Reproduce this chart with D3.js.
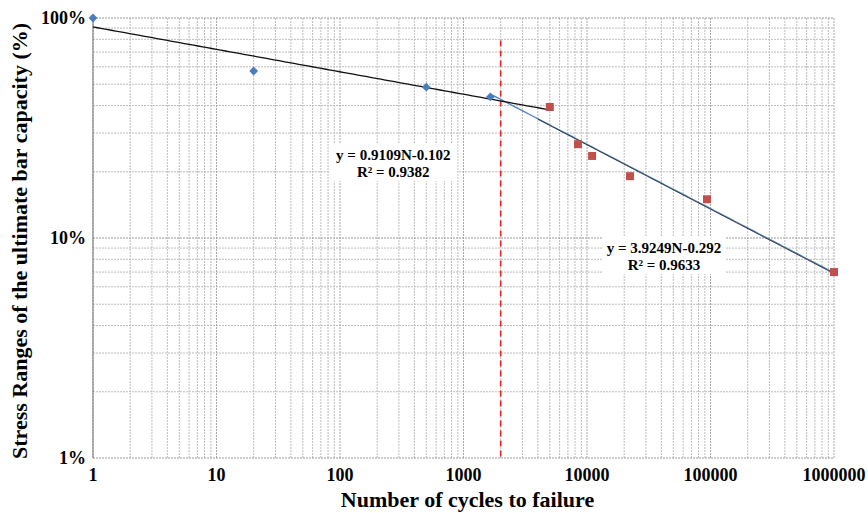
<!DOCTYPE html>
<html>
<head>
<meta charset="utf-8">
<script src="https://cdn.jsdelivr.net/npm/d3@7"></script>
<style>
  body { margin: 0; background: #fff; }
  text { font-family: "Liberation Serif", "Times New Roman", serif; font-weight: bold; }
</style>
</head>
<body>
<svg width="868" height="513"></svg>
<script>
// low cycle points (blue) and high cycle points (red)
const lowN = [1, 20, 500, 1650];
const lowS = [1.0, 0.574, 0.485, 0.438];
const highN = [5000, 8450, 11000, 22300, 93700, 1000000];
const highS = [0.394, 0.267, 0.236, 0.191, 0.150, 0.070];

// power trendlines  S = a * N^b
const trend1 = { a: 0.9109, b: -0.102, from: 1, to: 5000 };
const trend2 = { a: 3.9249, b: -0.292, from: 1650, to: 1000000 };
const limitN = 2000;

const xTicks = [1, 10, 100, 1000, 10000, 100000, 1000000];
const yTicks = [0.01, 0.1, 1];

const svg = d3.select("svg"),
    margin = { top: 18, right: 34, bottom: 55, left: 93 },
    width = +svg.attr("width") - margin.left - margin.right,
    height = +svg.attr("height") - margin.top - margin.bottom;

const x = d3.scaleLog().domain([1, 1e6]).range([0, width]),
    y = d3.scaleLog().domain([0.01, 1]).range([height, 0]);

const g = svg.append("g").attr("transform", `translate(${margin.left},${margin.top})`);

// minor grid values
const minorX = [], minorY = [];
for (let e = 0; e < 6; e++) for (let m = 2; m <= 9; m++) minorX.push(m * Math.pow(10, e));
for (let e = -2; e < 0; e++) for (let m = 2; m <= 9; m++) minorY.push(m * Math.pow(10, e));

g.selectAll(".vminor").data(minorX).join("line")
    .attr("x1", d => x(d)).attr("x2", d => x(d))
    .attr("y1", 0).attr("y2", height)
    .attr("stroke", "#bdbdbd").attr("stroke-dasharray", "2,1");
g.selectAll(".hminor").data(minorY).join("line")
    .attr("y1", d => y(d)).attr("y2", d => y(d))
    .attr("x1", 0).attr("x2", width)
    .attr("stroke", "#bdbdbd").attr("stroke-dasharray", "2,1");
g.selectAll(".vmajor").data(xTicks).join("line")
    .attr("x1", d => x(d)).attr("x2", d => x(d))
    .attr("y1", 0).attr("y2", height)
    .attr("stroke", "#a8a8a8").attr("stroke-dasharray", "2,1");
g.selectAll(".hmajor").data(yTicks).join("line")
    .attr("y1", d => y(d)).attr("y2", d => y(d))
    .attr("x1", 0).attr("x2", width)
    .attr("stroke", "#999").attr("stroke-dasharray", "2,1").attr("stroke-width", 1.2);

// left axis line
g.append("line").attr("x1", 0).attr("x2", 0).attr("y1", 0).attr("y2", height)
    .attr("stroke", "#888").attr("stroke-width", 1.2);

// red dashed limit
g.append("line")
    .attr("x1", x(limitN)).attr("x2", x(limitN))
    .attr("y1", y(0.79)).attr("y2", height)
    .attr("stroke", "#e8262a").attr("stroke-width", 1.6).attr("stroke-dasharray", "6,4");

// trendlines
const powerLine = (t, color, w) => {
    const pts = d3.range(0, 101).map(i => {
        const n = Math.pow(10, Math.log10(t.from) + i / 100 * (Math.log10(t.to) - Math.log10(t.from)));
        return [n, t.a * Math.pow(n, t.b)];
    });
    g.append("path")
        .attr("d", d3.line().x(d => x(d[0])).y(d => y(d[1]))(pts))
        .attr("fill", "none").attr("stroke", color).attr("stroke-width", w);
};
powerLine(trend2, "#4f81bd", 1.3);
powerLine({ a: trend2.a, b: trend2.b * 1.002, from: 4000, to: trend2.to }, "#222", 0.8);
powerLine(trend1, "#111", 1.3);

// points
g.selectAll(".low").data(lowN).join("path")
    .attr("transform", (d, i) => `translate(${x(d)},${y(lowS[i])})`)
    .attr("d", d3.symbol(d3.symbolDiamond2, 50))
    .attr("fill", "#4a7ebb");
g.selectAll(".high").data(highN).join("rect")
    .attr("x", d => x(d) - 4).attr("y", (d, i) => y(highS[i]) - 4)
    .attr("width", 8).attr("height", 8)
    .attr("fill", "#c0504d");

// equation labels
const eqLabel = (cx, cy, w, line1, line2) => {
    g.append("rect").attr("x", cx - w / 2).attr("y", cy - 17).attr("width", w).attr("height", 38)
        .attr("fill", "#fff");
    g.append("text").attr("x", cx).attr("y", cy).attr("text-anchor", "middle")
        .attr("font-size", 15).text(line1);
    g.append("text").attr("x", cx).attr("y", cy + 17).attr("text-anchor", "middle")
        .attr("font-size", 15).text(line2);
};
eqLabel(x(270), y(0.226), 128, "y = 0.9109N-0.102", "R² = 0.9382");
eqLabel(x(42000), y(0.0855), 122, "y = 3.9249N-0.292", "R² = 0.9633");

// tick labels
g.selectAll(".xt").data(xTicks).join("text")
    .attr("x", d => x(d)).attr("y", height + 23)
    .attr("text-anchor", "middle").attr("font-size", 18)
    .text(d => d3.format("d")(d));
g.selectAll(".yt").data(yTicks).join("text")
    .attr("x", -7).attr("y", d => y(d) + 6)
    .attr("text-anchor", "end").attr("font-size", 18)
    .text(d => Math.round(d * 100) + "%");

// axis titles
svg.append("text")
    .attr("x", margin.left + width / 2 + 4).attr("y", 507)
    .attr("text-anchor", "middle").attr("font-size", 22)
    .text("Number of cycles to failure");
svg.append("text")
    .attr("transform", `translate(27,${margin.top + height / 2 + 3}) rotate(-90)`)
    .attr("text-anchor", "middle").attr("font-size", 22)
    .text("Stress Ranges of the ultimate bar capacity (%)");
</script>
</body>
</html>
